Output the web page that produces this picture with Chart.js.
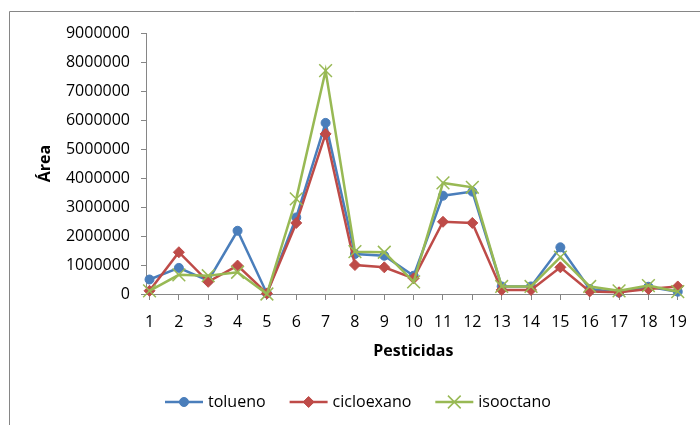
<!DOCTYPE html>
<html>
<head>
<meta charset="utf-8">
<script src="https://cdn.jsdelivr.net/npm/chart.js@4"></script>
<style>
  html, body { margin: 0; padding: 0; background: #ffffff; }
  canvas { display: block; }
</style>
</head>
<body>
<canvas id="chart" width="700" height="425"></canvas>
<script>
// Pesticide number on the x axis
const pesticidas = [1, 2, 3, 4, 5, 6, 7, 8, 9, 10, 11, 12, 13, 14, 15, 16, 17, 18, 19];

// Peak areas per solvent
const tolueno    = [500000, 900000, 460000, 2180000, 20000, 2640000, 5900000, 1380000, 1320000, 630000, 3390000, 3530000, 260000, 260000, 1610000, 170000, 50000, 250000, 80000];
const cicloexano = [110000, 1440000, 420000, 980000, 20000, 2450000, 5520000, 1000000, 920000, 540000, 2490000, 2450000, 140000, 140000, 920000, 90000, 60000, 170000, 260000];
const isooctano  = [110000, 660000, 630000, 750000, 0, 3280000, 7700000, 1460000, 1440000, 420000, 3830000, 3680000, 260000, 260000, 1270000, 260000, 110000, 290000, 80000];

// Value axis ticks
const yTicks = [0, 1000000, 2000000, 3000000, 4000000, 5000000, 6000000, 7000000, 8000000, 9000000];

const seriesNames = ['tolueno', 'cicloexano', 'isooctano'];

const FONT = '"Open Sans", "Liberation Sans", Arial, sans-serif';
const AXIS_GREY = '#868686';
const COLORS = { tolueno: '#4a7ebb', cicloexano: '#be4b48', isooctano: '#98b954' };
const STYLES = {
  tolueno:    { pointStyle: 'circle',   pointRadius: 4.5, pointBorderWidth: 1 },
  cicloexano: { pointStyle: 'rectRot',  pointRadius: 5.5, pointBorderWidth: 1 },
  isooctano:  { pointStyle: 'crossRot', pointRadius: 9,   pointBorderWidth: 1.5 }
};

const toPoints = vals => pesticidas.map((p, i) => ({ x: p, y: vals[i] }));

function makeDataset(name, vals, order) {
  const c = COLORS[name];
  return Object.assign({
    label: name,
    data: toPoints(vals),
    borderColor: c,
    backgroundColor: c,
    pointBackgroundColor: c,
    pointBorderColor: c,
    borderWidth: 2.5,
    tension: 0,
    order: order,
    clip: false
  }, STYLES[name]);
}

// Outer frame, axis titles and legend
const decorations = {
  id: 'decorations',
  beforeDraw(chart) {
    const ctx = chart.ctx;
    ctx.save();
    ctx.fillStyle = '#ffffff';
    ctx.fillRect(0, 0, chart.width, chart.height);
    ctx.strokeStyle = AXIS_GREY;
    ctx.lineWidth = 1;
    ctx.beginPath();
    ctx.moveTo(9.5, chart.height);
    ctx.lineTo(9.5, 11.5);
    ctx.lineTo(chart.width, 11.5);
    ctx.stroke();
    ctx.restore();
  },
  afterDraw(chart) {
    const ctx = chart.ctx;
    const area = chart.chartArea;
    ctx.save();
    ctx.fillStyle = '#000000';
    ctx.font = 'bold 16px ' + FONT;
    ctx.textAlign = 'center';
    ctx.textBaseline = 'middle';
    // y title
    ctx.save();
    ctx.translate(45, (area.top + area.bottom) / 2);
    ctx.rotate(-Math.PI / 2);
    ctx.fillText('Área', 0, 0);
    ctx.restore();
    // x title
    ctx.fillText('Pesticidas', (area.left + area.right) / 2, 351);

    // legend
    const ly = 402;
    let lx = 165;
    ctx.font = '16px ' + FONT;
    ctx.textAlign = 'left';
    chart.data.datasets.slice().sort((a, b) => seriesNames.indexOf(a.label) - seriesNames.indexOf(b.label)).forEach(ds => {
      const c = ds.borderColor;
      const lineLen = 38;
      ctx.strokeStyle = c;
      ctx.lineWidth = 2.5;
      ctx.beginPath();
      ctx.moveTo(lx, ly);
      ctx.lineTo(lx + lineLen, ly);
      ctx.stroke();
      ctx.fillStyle = c;
      ctx.strokeStyle = c;
      ctx.lineWidth = ds.pointBorderWidth;
      Chart.helpers.drawPoint(ctx, { pointStyle: ds.pointStyle, radius: ds.pointRadius, rotation: 0, borderWidth: ds.pointBorderWidth }, lx + lineLen / 2, ly);
      ctx.fillStyle = '#000000';
      const tx = lx + lineLen + 5;
      ctx.fillText(ds.label, tx, ly);
      lx = tx + ctx.measureText(ds.label).width + 24;
    });
    ctx.restore();
  }
};

new Chart(document.getElementById('chart'), {
  type: 'line',
  data: {
    datasets: [
      makeDataset('tolueno', tolueno, 3),
      makeDataset('cicloexano', cicloexano, 2),
      makeDataset('isooctano', isooctano, 1)
    ]
  },
  options: {
    responsive: false,
    animation: false,
    layout: { padding: { top: 33, right: 18, left: 0, bottom: 0 } },
    plugins: {
      legend: { display: false },
      tooltip: { enabled: false },
      title: { display: false }
    },
    scales: {
      x: {
        type: 'linear',
        min: 0.88,
        max: 19.1,
        afterBuildTicks: s => { s.ticks = pesticidas.map(v => ({ value: v })); },
        afterFit: s => { s.height = 131; },
        ticks: {
          autoSkip: false,
          maxRotation: 0,
          padding: 13,
          color: '#000000',
          font: { family: FONT, size: 16 },
          callback: v => String(v)
        },
        grid: { display: true, drawOnChartArea: false, drawTicks: true, tickLength: 6, color: AXIS_GREY },
        border: { display: true, color: AXIS_GREY, width: 1 }
      },
      y: {
        type: 'linear',
        min: 0,
        max: 9000000,
        afterBuildTicks: s => { s.ticks = yTicks.map(v => ({ value: v })); },
        afterFit: s => { s.width = 146; },
        ticks: {
          padding: 11,
          color: '#000000',
          font: { family: FONT, size: 16 },
          callback: v => String(v)
        },
        grid: { display: true, drawOnChartArea: false, drawTicks: true, tickLength: 5, color: AXIS_GREY },
        border: { display: true, color: AXIS_GREY, width: 1 }
      }
    }
  },
  plugins: [decorations]
});
</script>
</body>
</html>
